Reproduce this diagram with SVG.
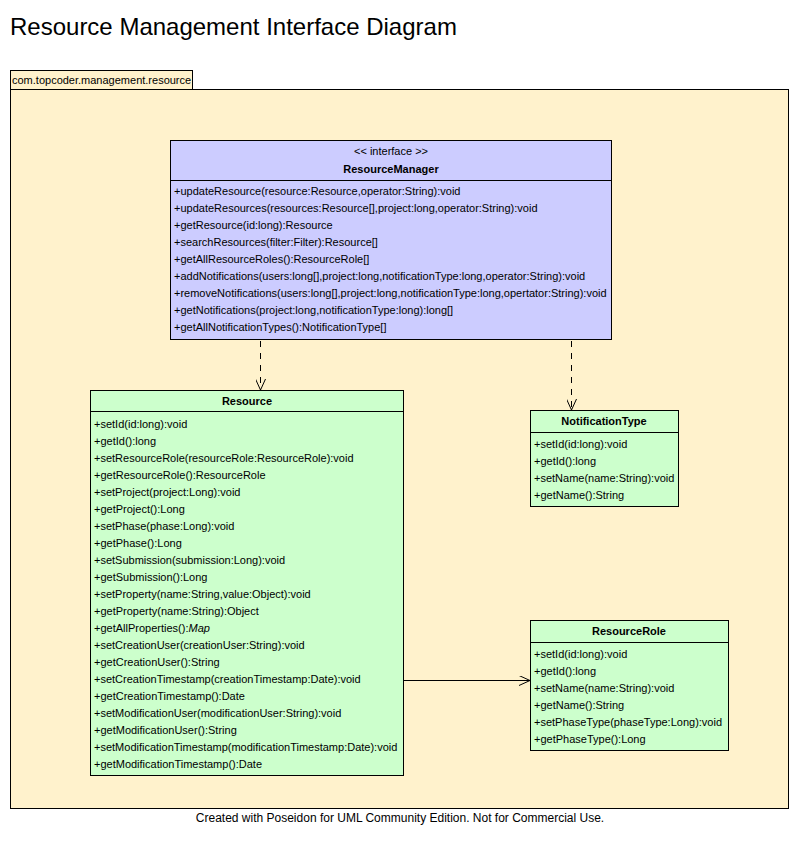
<svg xmlns="http://www.w3.org/2000/svg" width="800" height="844" viewBox="0 0 800 844">
<style>
text{font-family:"Liberation Sans",Arial,sans-serif;fill:#000}
.m{font-size:11px}
.b{font-size:11px;font-weight:bold;text-anchor:middle}
.box{stroke:#000;stroke-width:1}
.iface{fill:#CCCCFF}
.cls{fill:#CCFFCC}
.pkg{fill:#FFF2CC;stroke:#000;stroke-width:1}
.ln{stroke:#000;stroke-width:1;fill:none}
.dash{stroke-dasharray:6,6}
</style>
<defs>
<marker id="open" viewBox="0 0 12 10" refX="11" refY="5" markerWidth="12" markerHeight="10" markerUnits="userSpaceOnUse" orient="auto">
<path d="M0,0 L11,5 L0,10" fill="none" stroke="#000" stroke-width="1"/>
</marker>
</defs>
<rect width="800" height="844" fill="#fff"/>
<text x="10" y="35" font-size="24">Resource Management Interface Diagram</text>
<g id="package">
<rect class="pkg" x="10.5" y="70.5" width="182" height="19"/>
<rect class="pkg" x="10.5" y="89.5" width="778" height="719"/>
<text class="m" x="12" y="84">com.topcoder.management.resource</text>
</g>
<g id="ResourceManager">
<rect class="box iface" x="170.5" y="140.5" width="441" height="199"/>
<line class="ln" x1="170.5" y1="180.5" x2="611.5" y2="180.5"/>
<text class="m" x="391" y="155" text-anchor="middle" font-size="10">&lt;&lt; interface &gt;&gt;</text>
<text class="b" x="391" y="173">ResourceManager</text>
<text class="m" x="174" y="195">+updateResource(resource:Resource,operator:String):void</text>
<text class="m" x="174" y="212">+updateResources(resources:Resource[],project:long,operator:String):void</text>
<text class="m" x="174" y="229">+getResource(id:long):Resource</text>
<text class="m" x="174" y="246">+searchResources(filter:Filter):Resource[]</text>
<text class="m" x="174" y="263">+getAllResourceRoles():ResourceRole[]</text>
<text class="m" x="174" y="280">+addNotifications(users:long[],project:long,notificationType:long,operator:String):void</text>
<text class="m" x="174" y="297">+removeNotifications(users:long[],project:long,notificationType:long,opertator:String):void</text>
<text class="m" x="174" y="314">+getNotifications(project:long,notificationType:long):long[]</text>
<text class="m" x="174" y="331">+getAllNotificationTypes():NotificationType[]</text>
</g>
<g id="Resource">
<rect class="box cls" x="90.5" y="390.5" width="313" height="385"/>
<line class="ln" x1="90.5" y1="411.5" x2="403.5" y2="411.5"/>
<text class="b" x="247" y="405">Resource</text>
<text class="m" x="94" y="428">+setId(id:long):void</text>
<text class="m" x="94" y="445">+getId():long</text>
<text class="m" x="94" y="462">+setResourceRole(resourceRole:ResourceRole):void</text>
<text class="m" x="94" y="479">+getResourceRole():ResourceRole</text>
<text class="m" x="94" y="496">+setProject(project:Long):void</text>
<text class="m" x="94" y="513">+getProject():Long</text>
<text class="m" x="94" y="530">+setPhase(phase:Long):void</text>
<text class="m" x="94" y="547">+getPhase():Long</text>
<text class="m" x="94" y="564">+setSubmission(submission:Long):void</text>
<text class="m" x="94" y="581">+getSubmission():Long</text>
<text class="m" x="94" y="598">+setProperty(name:String,value:Object):void</text>
<text class="m" x="94" y="615">+getProperty(name:String):Object</text>
<text class="m" x="94" y="632">+getAllProperties():<tspan font-style="italic">Map</tspan></text>
<text class="m" x="94" y="649">+setCreationUser(creationUser:String):void</text>
<text class="m" x="94" y="666">+getCreationUser():String</text>
<text class="m" x="94" y="683">+setCreationTimestamp(creationTimestamp:Date):void</text>
<text class="m" x="94" y="700">+getCreationTimestamp():Date</text>
<text class="m" x="94" y="717">+setModificationUser(modificationUser:String):void</text>
<text class="m" x="94" y="734">+getModificationUser():String</text>
<text class="m" x="94" y="751">+setModificationTimestamp(modificationTimestamp:Date):void</text>
<text class="m" x="94" y="768">+getModificationTimestamp():Date</text>
</g>
<g id="NotificationType">
<rect class="box cls" x="530.5" y="410.5" width="148" height="96"/>
<line class="ln" x1="530.5" y1="432.5" x2="678.5" y2="432.5"/>
<text class="b" x="604" y="425">NotificationType</text>
<text class="m" x="534" y="448">+setId(id:long):void</text>
<text class="m" x="534" y="465">+getId():long</text>
<text class="m" x="534" y="482">+setName(name:String):void</text>
<text class="m" x="534" y="499">+getName():String</text>
</g>
<g id="ResourceRole">
<rect class="box cls" x="530.5" y="620.5" width="198" height="130"/>
<line class="ln" x1="530.5" y1="642.5" x2="728.5" y2="642.5"/>
<text class="b" x="629" y="635">ResourceRole</text>
<text class="m" x="534" y="658">+setId(id:long):void</text>
<text class="m" x="534" y="675">+getId():long</text>
<text class="m" x="534" y="692">+setName(name:String):void</text>
<text class="m" x="534" y="709">+getName():String</text>
<text class="m" x="534" y="726">+setPhaseType(phaseType:Long):void</text>
<text class="m" x="534" y="743">+getPhaseType():Long</text>
</g>
<g id="connectors">
<line class="ln dash" x1="260.5" y1="341" x2="260.5" y2="390" marker-end="url(#open)"/>
<line class="ln dash" x1="571.5" y1="341" x2="571.5" y2="410" marker-end="url(#open)"/>
<line class="ln" x1="404" y1="680.5" x2="530" y2="680.5" marker-end="url(#open)"/>
</g>
<text x="400" y="822" font-size="12" text-anchor="middle">Created with Poseidon for UML Community Edition. Not for Commercial Use.</text>
</svg>
